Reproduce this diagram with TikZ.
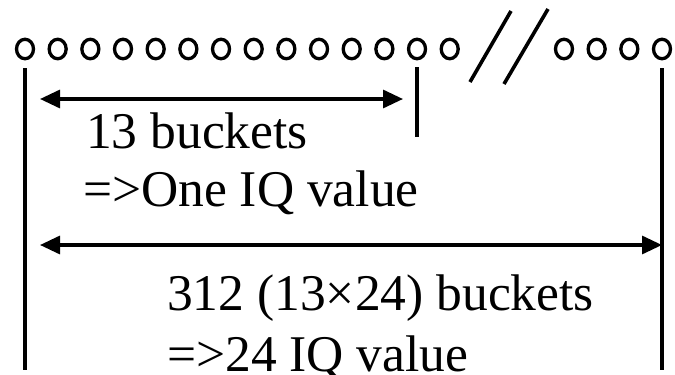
\documentclass[tikz,border=0pt]{standalone}
\usepackage{fontspec}
\setmainfont{Liberation Serif}
\usetikzlibrary{arrows.meta,shapes.geometric}
\begin{document}
\begin{tikzpicture}[x=1pt,y=-1pt,
  bucket/.style={draw,line width=3.3pt,ellipse,inner sep=0pt,minimum width=17pt,minimum height=19.5pt},
  rule/.style={line width=3.2pt},
  brk/.style={line width=3.6pt},
  span/.style={line width=3.2pt,{Triangle[length=20pt,width=18pt]}-{Triangle[length=20pt,width=18pt]}},
  lbl/.style={anchor=base west,inner sep=0pt,font=\fontsize{51.5}{58}\selectfont}]
\useasboundingbox (0,0) rectangle (675,375);
\fill[white] (0,0) rectangle (675,375);
% left group of 14 buckets
\foreach \i in {1,...,14}{
  \node[bucket] (c\i) at ({25+(\i-1)*32.67},49) {};
}
% right group of 4 buckets
\foreach \i in {1,...,4}{
  \node[bucket] (d\i) at ({662-(4-\i)*32.67},49) {};
}
% break marks
\coordinate (s1a) at (470,82); \coordinate (s1b) at (511,11);
\coordinate (s2a) at (504,84); \coordinate (s2b) at (548,9);
\draw[brk] (s1a) -- (s1b);
\draw[brk] (s2a) -- (s2b);
% vertical rules
\coordinate (lt) at (25,68);  \coordinate (lb) at (25,370);
\coordinate (rt) at (662,68); \coordinate (rb) at (662,370);
\coordinate (mt) at (417,67); \coordinate (mb) at (417,137);
\draw[rule] (lt) -- (lb);
\draw[rule] (rt) -- (rb);
\draw[rule] (mt) -- (mb);
% span arrows
\coordinate (a1l) at (40,99);  \coordinate (a1r) at (403,99);
\coordinate (a2l) at (40,245); \coordinate (a2r) at (662,245);
\draw[span] (a1l) -- (a1r);
\draw[span] (a2l) -- (a2r);
% labels
\node[lbl] (t1) at (86,148) {13 buckets};
\node[lbl] (t2) at (83,206) {=>One IQ value};
\node[lbl] (t3) at (167,310) {312 (13×24) buckets};
\node[lbl] (t4) at (167,371) {=>24 IQ value};
\end{tikzpicture}
\end{document}
